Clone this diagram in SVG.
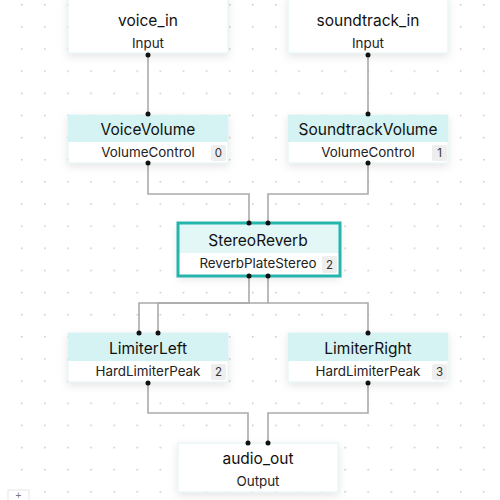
<svg xmlns="http://www.w3.org/2000/svg" width="500" height="500" viewBox="0 0 500 500">
<defs>
<pattern id="grid" x="21" y="4" width="23.1" height="22.14" patternUnits="userSpaceOnUse">
<circle cx="0.8" cy="0.8" r="0.8" fill="#b8b8b8"/>
</pattern>
<filter id="sh" x="-20%" y="-30%" width="140%" height="170%">
<feDropShadow dx="0" dy="3" stdDeviation="4" flood-color="#000" flood-opacity="0.10"/>
</filter>
</defs>
<style>
.body{fill:#ffffff;stroke:#dff3f3;stroke-width:1}
.hdr{fill:#d5f3f3}
.hdr2{fill:#e3f7f7}
.title{font-family:Inter,"Liberation Sans",Arial,sans-serif;font-size:15.5px;fill:#111;text-anchor:middle}
.sub{font-family:Inter,"Liberation Sans",Arial,sans-serif;font-size:13.4px;fill:#222;text-anchor:middle}
.badge{fill:#eeeeee}
.bt{font-family:Inter,"Liberation Sans",Arial,sans-serif;font-size:11.5px;fill:#333;text-anchor:middle}
.edge{fill:none;stroke:#aaaaaa;stroke-width:1.6}
.port{fill:#111}
</style>
<rect width="500" height="500" fill="#ffffff"/>
<rect width="500" height="500" fill="url(#grid)"/>

<g id="connectors">
<path class="edge" d="M148,55 V114"/>
<path class="edge" d="M368,55 V114"/>
<path class="edge" d="M148,163 V194 H249 V223"/>
<path class="edge" d="M368,163 V194 H268 V223"/>
<path class="edge" d="M249,277 V303 H139 V333"/>
<path class="edge" d="M268,277 V303 H158 V333"/>
<path class="edge" d="M268,303 H368 V333"/>
<path class="edge" d="M148,383 V413 H248 V443"/>
<path class="edge" d="M368,383 V413 H268 V443"/>
</g>

<g id="voice_in">
<rect class="body" x="68" y="-4" width="160" height="57" filter="url(#sh)"/>
<text class="title" x="148" y="26">voice_in</text>
<text class="sub" x="148" y="48">Input</text>
<circle class="port" cx="148" cy="55" r="2.5"/>
</g>

<g id="soundtrack_in">
<rect class="body" x="288" y="-4" width="160" height="57" filter="url(#sh)"/>
<text class="title" x="368" y="26">soundtrack_in</text>
<text class="sub" x="368" y="48">Input</text>
<circle class="port" cx="368" cy="55" r="2.5"/>
</g>

<g id="VoiceVolume">
<rect class="body" x="68" y="115" width="160" height="48" filter="url(#sh)"/>
<rect class="hdr" x="68" y="115" width="160" height="27"/>
<text class="title" x="148" y="135">VoiceVolume</text>
<text class="sub" x="148" y="157">VolumeControl</text>
<rect class="badge" x="211" y="145" width="15" height="16" rx="2"/>
<text class="bt" x="218.5" y="157">0</text>
<circle class="port" cx="148" cy="114" r="2.5"/>
<circle class="port" cx="148" cy="163" r="2.5"/>
</g>

<g id="SoundtrackVolume">
<rect class="body" x="288" y="115" width="160" height="48" filter="url(#sh)"/>
<rect class="hdr" x="288" y="115" width="160" height="27"/>
<text class="title" x="368" y="135">SoundtrackVolume</text>
<text class="sub" x="368" y="157">VolumeControl</text>
<rect class="badge" x="432" y="145" width="15" height="16" rx="2"/>
<text class="bt" x="439.5" y="157">1</text>
<circle class="port" cx="368" cy="114" r="2.5"/>
<circle class="port" cx="368" cy="163" r="2.5"/>
</g>

<g id="StereoReverb">
<rect x="178" y="223" width="162" height="53" fill="#ffffff" filter="url(#sh)"/>
<rect class="hdr2" x="178" y="223" width="162" height="30"/>
<rect x="178" y="223" width="162" height="53" fill="none" stroke="#26b5ad" stroke-width="3"/>
<text class="title" x="258" y="246">StereoReverb</text>
<text class="sub" x="258" y="268">ReverbPlateStereo</text>
<rect class="badge" x="322" y="256" width="15" height="17" rx="2"/>
<text class="bt" x="329.5" y="269">2</text>
<circle class="port" cx="249" cy="223" r="2.5"/>
<circle class="port" cx="268" cy="223" r="2.5"/>
<circle class="port" cx="249" cy="276" r="2.5"/>
<circle class="port" cx="268" cy="276" r="2.5"/>
</g>

<g id="LimiterLeft">
<rect class="body" x="68" y="333" width="160" height="49" filter="url(#sh)"/>
<rect class="hdr" x="68" y="333" width="160" height="28"/>
<text class="title" x="148" y="354">LimiterLeft</text>
<text class="sub" x="148" y="376">HardLimiterPeak</text>
<rect class="badge" x="211" y="364" width="15" height="16" rx="2"/>
<text class="bt" x="218.5" y="376">2</text>
<circle class="port" cx="139" cy="333" r="2.5"/>
<circle class="port" cx="158" cy="333" r="2.5"/>
<circle class="port" cx="148" cy="383" r="2.5"/>
</g>

<g id="LimiterRight">
<rect class="body" x="288" y="333" width="160" height="49" filter="url(#sh)"/>
<rect class="hdr" x="288" y="333" width="160" height="28"/>
<text class="title" x="368" y="354">LimiterRight</text>
<text class="sub" x="368" y="376">HardLimiterPeak</text>
<rect class="badge" x="432" y="364" width="15" height="16" rx="2"/>
<text class="bt" x="439.5" y="376">3</text>
<circle class="port" cx="368" cy="333" r="2.5"/>
<circle class="port" cx="368" cy="383" r="2.5"/>
</g>

<g id="audio_out">
<rect class="body" x="178" y="443" width="160" height="49" filter="url(#sh)"/>
<text class="title" x="258" y="464">audio_out</text>
<text class="sub" x="258" y="486">Output</text>
<circle class="port" cx="248" cy="443" r="2.5"/>
<circle class="port" cx="268" cy="443" r="2.5"/>
</g>

<g id="zoom_control">
<rect x="8" y="490" width="21" height="14" fill="#ffffff" stroke="#e6e6e6" stroke-width="1"/>
<text x="18.5" y="499" font-family="Liberation Sans, Arial, sans-serif" font-size="10" fill="#777" text-anchor="middle">+</text>
</g>
</svg>
